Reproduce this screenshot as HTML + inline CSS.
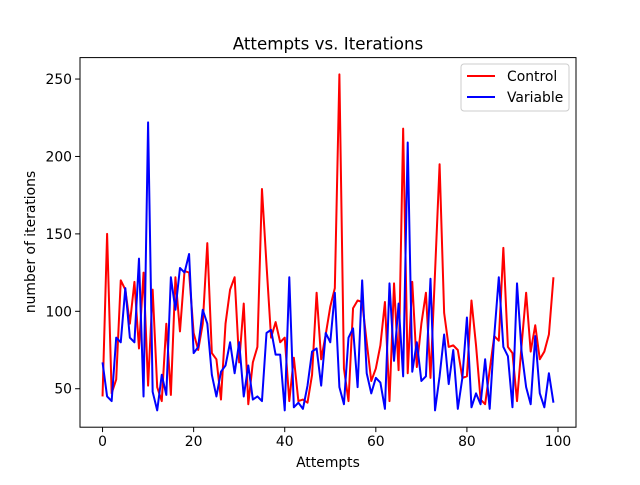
<!DOCTYPE html>
<html><head><meta charset="utf-8"><style>
body{margin:0;background:#fff}
text{font-family:"DejaVu Sans","Liberation Sans",sans-serif;fill:#000}
</style></head><body>
<svg id="chart" width="640" height="480" xmlns="http://www.w3.org/2000/svg">
<rect width="640" height="480" fill="#fff"/>
<text x="328" y="49.5" font-size="16.7" text-anchor="middle">Attempts vs. Iterations</text>
<g id="axes"></g>
<g id="series"></g>
<rect x="80" y="57.6" width="496" height="369.6" fill="none" stroke="#000" stroke-width="1"/>
<text x="328" y="467" font-size="13.9" text-anchor="middle">Attempts</text>
<text x="35" y="242" font-size="13.9" text-anchor="middle" transform="rotate(-90 35 242)">number of iterations</text>
<g>
<rect x="461" y="64" width="108" height="47" rx="3" fill="#fff" stroke="#ccc"/>
<line x1="467" y1="76" x2="495" y2="76" stroke="#f00" stroke-width="2"/>
<text x="507" y="81" font-size="13.9">Control</text>
<line x1="467" y1="97" x2="495" y2="97" stroke="#00f" stroke-width="2"/>
<text x="507" y="102" font-size="13.9">Variable</text>
</g>
</svg>
<script>
const xTicks=[0,20,40,60,80,100];
const yTicks=[50,100,150,200,250];
const control=[45,150,47,56,120,114,92,119,76,125,52,114,51,42,92,46,122,87,126,125,86,75,92,144,73,69,43,92,114,122,67,105,40,67,77,179,130,83,93,80,83,42,70,42,43,41,59,112,69,85,103,115,253,63,42,102,107,106,80,55,63,78,106,42,118,62,218,60,119,64,92,112,57,125,195,99,77,78,75,57,58,107,78,43,40,62,84,81,141,77,73,42,78,112,74,91,69,74,85,122];
const variable=[67,45,42,83,80,115,83,80,134,45,222,48,36,59,46,122,101,128,125,137,73,77,101,92,59,45,61,65,80,60,80,45,65,43,45,42,86,88,72,72,36,122,38,41,37,52,74,76,52,86,80,112,51,40,83,89,51,120,60,47,57,54,37,118,68,105,58,209,61,80,55,58,121,36,58,85,53,75,37,57,96,38,47,40,69,37,84,122,77,71,38,118,74,51,40,84,47,38,60,41];
const X0=80,X1=576,Y0=427.2,Y1=57.6,xmin=-4.95,xmax=103.95,ymin=25.15,ymax=263.85;
const xs=v=>X0+(v-xmin)/(xmax-xmin)*(X1-X0);
const ys=v=>Y0-(v-ymin)/(ymax-ymin)*(Y0-Y1);
const NS="http://www.w3.org/2000/svg";
const axes=document.getElementById('axes');
xTicks.forEach(t=>{
 const l=document.createElementNS(NS,'line');
 l.setAttribute('x1',xs(t));l.setAttribute('x2',xs(t));l.setAttribute('y1',Y0);l.setAttribute('y2',Y0+4.9);l.setAttribute('stroke','#000');
 
 
 axes.appendChild(l);
 const tx=document.createElementNS(NS,'text');
 tx.setAttribute('x',xs(t));tx.setAttribute('y',Y0+19);tx.setAttribute('font-size','13.9');tx.setAttribute('text-anchor','middle');tx.textContent=t;
 
 
 axes.appendChild(tx);
});
yTicks.forEach(t=>{
 const l=document.createElementNS(NS,'line');
 l.setAttribute('x1',X0-4.9);l.setAttribute('x2',X0);l.setAttribute('y1',ys(t));l.setAttribute('y2',ys(t));l.setAttribute('stroke','#000');
 
 
 axes.appendChild(l);
 const tx=document.createElementNS(NS,'text');
 tx.setAttribute('x',X0-8);tx.setAttribute('y',ys(t)+5);tx.setAttribute('font-size','13.9');tx.setAttribute('text-anchor','end');tx.textContent=t;
 
 
 axes.appendChild(tx);
});
const ser=document.getElementById('series');
function draw(arr,color,name){
 const p=document.createElementNS(NS,'polyline');
 p.setAttribute('points',arr.map((v,i)=>xs(i).toFixed(2)+','+ys(v).toFixed(2)).join(' '));
 p.setAttribute('fill','none');p.setAttribute('stroke',color);p.setAttribute('stroke-width','2');p.setAttribute('stroke-linejoin','round');
 
 
 ser.appendChild(p);
}
draw(control,'#f00','control-line');
draw(variable,'#00f','variable-line');
</script>
</body></html>
